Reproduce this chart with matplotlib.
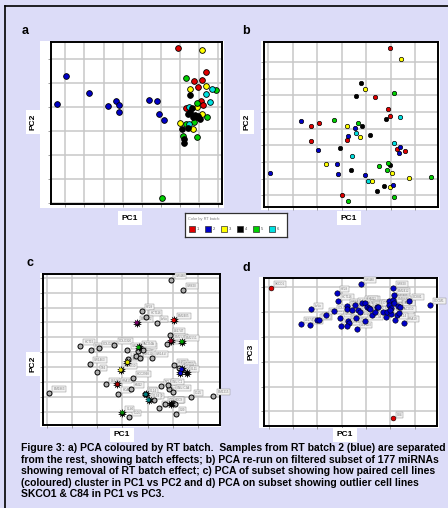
import matplotlib
matplotlib.use('Agg')
import matplotlib.pyplot as plt
from matplotlib.patches import Rectangle

plt.rcParams['font.family'] = ['Liberation Sans', 'DejaVu Sans']

BG = '#dcdcf8'
batch_cols = {1: '#e00000', 2: '#0000c8', 3: '#ffff00', 4: '#000000', 5: '#00d000', 6: '#00e0e0'}

# panel a: PCA coloured by RT batch (PC1 vs PC2)
a_pts = {
    2: ([0.05, -0.43, 1.25, 2.21, 2.64, 2.82, 2.80, 4.38, 4.78, 4.92, 5.17],
        [5.30, 4.11, 4.58, 4.02, 4.25, 4.09, 3.80, 4.29, 4.25, 3.72, 3.47]),
    1: ([5.90, 7.36, 6.73, 7.17, 6.96, 6.30, 7.11, 7.20],
        [6.46, 5.45, 5.07, 5.10, 4.81, 3.93, 4.23, 4.09]),
    3: ([7.17, 6.50, 7.36, 6.87, 7.17, 6.02, 6.70],
        [6.37, 4.74, 4.88, 4.00, 3.71, 3.33, 3.07]),
    5: ([6.31, 7.88, 6.90, 7.39, 6.75, 6.31, 6.16, 6.87, 5.08],
        [5.21, 4.72, 4.16, 3.57, 3.36, 3.29, 2.77, 2.73, 0.20]),
    6: ([7.69, 7.37, 7.55, 6.45, 6.47],
        [4.74, 4.55, 4.22, 4.00, 3.29]),
    4: ([6.50, 6.61, 6.43, 6.70, 6.87, 7.04, 6.09, 6.43, 6.19, 6.19, 6.78, 6.95, 6.55],
        [4.51, 3.93, 3.72, 3.58, 3.56, 3.51, 3.07, 3.10, 2.67, 2.51, 3.65, 3.62, 3.80]),
}

# panel b: re-run on filtered subset
b_pts = {
    1: ([4.98, 1.75, 2.07, 1.73, 4.38, 4.91, 4.98, 3.21, 5.27, 5.59, 3.00],
        [8.84, 4.18, 4.32, 3.26, 5.92, 5.18, 4.74, 3.32, 2.76, 2.64, 0.00]),
    3: ([5.44, 3.97, 3.22, 3.74, 2.36, 5.05, 4.24, 4.98, 5.77],
        [8.18, 6.38, 4.16, 3.52, 1.88, 1.36, 0.84, 0.52, 1.04]),
    4: ([3.79, 3.60, 4.82, 3.82, 4.17, 2.95, 3.37, 4.98, 4.71, 4.46],
        [6.76, 5.98, 4.60, 4.18, 3.62, 2.84, 1.54, 1.84, 0.58, 0.28]),
    5: ([5.12, 2.69, 3.68, 4.53, 4.88, 4.84, 6.66, 5.14, 3.27],
        [6.14, 4.50, 4.34, 1.74, 1.92, 1.54, 1.12, -0.10, -0.32]),
    2: ([1.32, 2.02, 3.55, 3.26, 2.81, 2.86, 3.96, 5.40, 5.35, 5.10, 0.08],
        [4.46, 2.72, 4.04, 3.56, 1.86, 1.26, 1.24, 2.92, 2.56, 0.60, 1.32]),
    6: ([5.40, 3.60, 3.42, 5.12, 4.09],
        [4.72, 3.74, 2.34, 3.14, 0.84]),
}

# panel c: grey = unpaired, coloured = paired cell lines
c_grey_x = [4.95, 5.41, 3.76, 3.95, 4.36, 4.89, 4.79, 1.31, 1.73, 2.05, 2.68, 3.20, 3.60, 3.80,
            3.55, 3.69, 4.16, 1.71, 1.99, 3.23, 5.05, 5.25, 2.35, 2.83, 3.40, 3.33, 4.53, 4.84,
            4.80, 5.01, 3.88, 4.24, 4.44, 4.69, 5.01, 5.09, 5.12, 3.27, 5.72, 6.63, 0.08]
c_grey_y = [8.84, 8.20, 6.77, 6.37, 5.95, 5.19, 4.54, 4.45, 4.19, 4.32, 4.50, 4.19, 4.10, 4.19,
            3.76, 3.61, 3.63, 3.25, 2.69, 3.59, 3.14, 2.98, 1.87, 1.25, 2.32, 1.56, 1.74, 1.58,
            1.80, 1.36, 1.25, 0.82, 0.27, 0.58, 0.60, 0.58, -0.11, -0.33, 1.05, 1.11, 1.31]
c_pair_x = [5.05, 3.57, 4.93, 5.37, 3.64, 3.20, 2.93, 2.80, 5.36, 5.31, 5.56, 3.93, 4.04, 2.99, 4.93]
c_pair_y = [6.15, 5.99, 4.77, 4.72, 4.34, 3.34, 2.83, 1.87, 2.87, 2.61, 2.61, 1.20, 0.82, -0.02, 0.56]
c_pair_col = ['#e00000', '#700060', '#900020', '#00a000', '#00a000', '#e0e000', '#e0e000',
              '#a00000', '#0000c8', '#0000c8', '#000000', '#008080', '#008080', '#008000', '#000000']

# panel d: PC1 vs PC3, outliers SKCO1 & C84
d_blue_x = [3.78, 5.10, 2.79, 2.85, 1.74, 1.32, 1.71, 2.00, 2.07, 2.36, 2.68, 2.95, 2.97, 3.21,
            3.21, 3.26, 3.30, 3.23, 3.42, 3.55, 3.60, 3.62, 3.68, 3.74, 3.82, 3.95, 4.03, 4.14,
            4.18, 3.96, 4.25, 4.38, 4.44, 4.51, 4.70, 4.82, 4.88, 4.93, 4.96, 5.01, 5.04, 5.11,
            5.14, 5.15, 5.27, 5.33, 5.40, 5.37, 5.56, 5.77, 6.64, 4.99, 5.21]
d_blue_y = [5.15, 4.97, 4.78, 4.47, 4.11, 3.54, 3.48, 3.67, 3.69, 3.89, 4.03, 3.77, 3.45, 4.27,
            4.12, 3.63, 3.56, 3.45, 4.10, 4.30, 3.77, 3.33, 4.10, 4.02, 4.37, 4.39, 4.23, 4.19,
            4.14, 3.64, 3.89, 4.02, 4.23, 4.20, 3.99, 3.80, 4.00, 4.45, 4.30, 4.16, 3.94, 4.50,
            4.70, 4.37, 3.89, 4.27, 4.23, 3.96, 3.58, 4.47, 4.29, 4.10, 3.69]
d_red_x = [0.08, 5.10]
d_red_y = [4.97, -0.28]
d_red_names = ['SKCO1', 'C84']

cell_names = ['SW480', 'SW620', 'HT29', 'HCT116', 'LoVo', 'LS174T', 'DLD1', 'HCT15', 'RKO',
              'COLO205', 'COLO320', 'SW48', 'SW403', 'SW837', 'SW948', 'SW1116', 'SW1417',
              'SW1463', 'T84', 'CaCo2', 'LS180', 'LS411N', 'LS513', 'HCA7', 'HCC2998', 'KM12',
              'NCI-H716', 'GP5d', 'SNU-C1', 'SNU-C2A', 'HT55', 'C10', 'C32', 'C70', 'C75', 'C80',
              'C99', 'C106', 'C125', 'LIM1215', 'LIM1863', 'LIM2405', 'LIM2412', 'LIM2537',
              'LIM2551', 'VACO4A', 'VACO5', 'VACO10', 'HRA19', 'CCK81', 'COCM1', 'CL11', 'CL14',
              'CL34', 'CL40', 'HDC9', 'JVE', 'SW1222']

caption = ("Figure 3: a) PCA coloured by RT batch.  Samples from RT batch 2 (blue) are separated\n"
           "from the rest, showing batch effects; b) PCA re-run on filtered subset of 177 miRNAs\n"
           "showing removal of RT batch effect; c) PCA of subset showing how paired cell lines\n"
           "(coloured) cluster in PC1 vs PC2 and d) PCA on subset showing outlier cell lines\n"
           "SKCO1 & C84 in PC1 vs PC3.")

W, H = 448, 508
fig = plt.figure(figsize=(W / 100, H / 100), dpi=100, facecolor=BG)


def fbox(x0, y0, x1, y1):
    # pixel box (top-left origin) -> figure fraction rect
    return [x0 / W, 1 - y1 / H, (x1 - x0) / W, (y1 - y0) / H]


def white(x0, y0, x1, y1):
    r = fbox(x0, y0, x1, y1)
    fig.patches.append(Rectangle((r[0], r[1]), r[2], r[3], transform=fig.transFigure,
                                 facecolor='white', edgecolor='none', zorder=-5))


def label_box(x, y, s, rot=0):
    fig.text(x / W, 1 - y / H, s, ha='center', va='center', fontsize=6, fontweight='bold',
             rotation=rot, bbox=dict(facecolor='white', edgecolor='none', pad=2.5))


def tag(ax, x, y, s):
    t = ax.annotate(s, (x, y), xytext=(3, 2), textcoords='offset points', fontsize=2.2,
                    color='#808080', zorder=6,
                    bbox=dict(facecolor='#f2f2f2', edgecolor='#909090', linewidth=0.35, pad=0.7))
    t.set_clip_on(True)


def make_axes(rect, xmax, ymax, xlim, ylim):
    ax = fig.add_axes(fbox(*rect))
    ax.set_zorder(2)
    ax.set_xlim(*xlim)
    ax.set_ylim(*ylim)
    ax.set_xticks(range(0, xmax + 1))
    ax.set_yticks(range(0, ymax + 1))
    ax.set_xticklabels([])
    ax.set_yticklabels([])
    ax.tick_params(direction='out', length=2.5, width=0.6, color='#909090')
    ax.grid(True, color='#c8c8c8', linewidth=1.1)
    ax.set_axisbelow(True)
    for s in ax.spines.values():
        s.set_linewidth(1.4)
    return ax


# border (top and left only)
fig.add_artist(plt.Line2D([5 / W, 1], [1 - 6 / H, 1 - 6 / H], color='black', lw=1.2))
fig.add_artist(plt.Line2D([5 / W, 5 / W], [0, 1 - 6 / H], color='black', lw=1.2))

# white plot regions
white(40, 41, 224, 208)
white(261, 41, 440, 210)
white(40, 273, 221, 427)
white(259, 277, 439, 428)

# ---- a ----
ax = make_axes((51, 42, 222, 204), 8, 6, (-0.75, 8.2), (-0.05, 6.7))
for b in [2, 1, 3, 5, 6, 4]:
    xs, ys = a_pts[b]
    ax.scatter(xs, ys, s=17, c=batch_cols[b], edgecolors='black', linewidths=0.6, zorder=3)

# ---- b ----
ax = make_axes((264, 42, 438, 207), 6, 8, (-0.18, 6.94), (-0.7, 9.2))
for b in [1, 3, 4, 5, 2, 6]:
    xs, ys = b_pts[b]
    ax.scatter(xs, ys, s=10, c=batch_cols[b], edgecolors='black', linewidths=0.5, zorder=3)

# ---- c ----
ax = make_axes((43, 274, 220, 425), 6, 9, (-0.17, 6.89), (-0.85, 9.24))
all_cx = c_grey_x + c_pair_x
all_cy = c_grey_y + c_pair_y
for i in range(len(all_cx)):
    tag(ax, all_cx[i], all_cy[i], cell_names[i % len(cell_names)])
ax.scatter(c_grey_x, c_grey_y, s=13, c='#b0b0b0', edgecolors='black', linewidths=0.7, zorder=7)
ax.scatter(c_pair_x, c_pair_y, s=45, c='black', marker=(10, 1, 0), linewidths=0, zorder=8)
ax.scatter(c_pair_x, c_pair_y, s=7, c=c_pair_col, linewidths=0, zorder=9)

# ---- d ----
ax = make_axes((264, 278, 437, 426), 6, 5, (-0.19, 6.92), (-0.59, 5.38))
for i in range(len(d_blue_x)):
    tag(ax, d_blue_x[i], d_blue_y[i], cell_names[i % len(cell_names)])
for i in range(len(d_red_x)):
    tag(ax, d_red_x[i], d_red_y[i], d_red_names[i])
ax.scatter(d_blue_x, d_blue_y, s=15, c='#0000c8', edgecolors='black', linewidths=0.4, zorder=7)
ax.scatter(d_red_x, d_red_y, s=12, c='#e00000', edgecolors='black', linewidths=0.4, zorder=7)

# axis labels
label_box(130, 218, 'PC1')
label_box(33, 122, 'PC2', 90)
label_box(349, 218, 'PC1')
label_box(247, 122, 'PC2', 90)
label_box(122, 435, 'PC1')
label_box(33, 364, 'PC2', 90)
label_box(345, 435, 'PC1')
label_box(251, 352, 'PC3', 90)

# panel letters
for lt, x, y in [('a', 22, 31), ('b', 242, 31), ('c', 26, 263), ('d', 242, 268)]:
    fig.text(x / W, 1 - y / H, lt, fontsize=9, fontweight='bold', ha='left', va='center')

# legend box
lax = fig.add_axes(fbox(185, 213, 287, 237))
lax.set_zorder(3)
lax.set_xlim(0, 102)
lax.set_ylim(24, 0)
lax.set_xticks([])
lax.set_yticks([])
for s in lax.spines.values():
    s.set_linewidth(0.9)
    s.set_color('#303030')
lax.text(3, 6, 'Color by RT batch:', fontsize=2.8, color='#808080', va='center')
for k in range(1, 7):
    x0 = 4 + (k - 1) * 16
    lax.add_patch(Rectangle((x0, 13), 6, 6, facecolor=batch_cols[k], edgecolor='#303030', lw=0.5))
    lax.text(x0 + 8, 16, str(k), fontsize=3, color='#505050', va='center')

# caption
fig.text(21 / W, 1 - 443 / H, caption, fontsize=7.5, fontweight='bold', ha='left', va='top',
         linespacing=1.2)

fig.savefig('out.png', dpi=100, facecolor=BG)
